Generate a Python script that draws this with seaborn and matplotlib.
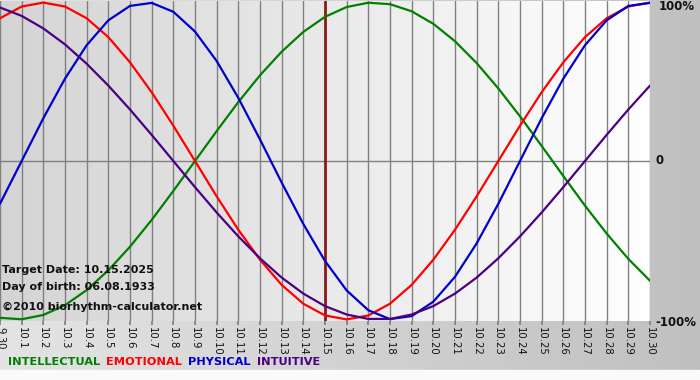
import numpy as np
import pandas as pd
import matplotlib
matplotlib.use("Agg")
import matplotlib.pyplot as plt
import seaborn as sns
from matplotlib.colors import LinearSegmentedColormap

days = ["9.30"] + [f"10.{d}" for d in range(1, 31)]

intellectual = [-0.990, -0.999, -0.972, -0.910, -0.815, -0.690, -0.541, -0.372, -0.189, 0.0,
                0.189, 0.372, 0.541, 0.690, 0.815, 0.910, 0.972, 0.999, 0.990, 0.945,
                0.866, 0.756, 0.618, 0.458, 0.282, 0.095, -0.095, -0.282, -0.458, -0.618, -0.756]
emotional = [0.901, 0.975, 1.0, 0.975, 0.901, 0.782, 0.623, 0.434, 0.223, 0.0,
             -0.223, -0.434, -0.623, -0.782, -0.901, -0.975, -1.0, -0.975, -0.901, -0.782,
             -0.623, -0.434, -0.223, 0.0, 0.223, 0.434, 0.623, 0.782, 0.901, 0.975, 1.0]
physical = [-0.270, 0.0, 0.270, 0.520, 0.731, 0.888, 0.979, 0.998, 0.942, 0.817,
            0.631, 0.398, 0.136, -0.136, -0.398, -0.631, -0.817, -0.942, -0.998, -0.979,
            -0.888, -0.731, -0.520, -0.270, 0.0, 0.270, 0.520, 0.731, 0.888, 0.979, 0.998]
intuitive = [0.969, 0.916, 0.837, 0.736, 0.614, 0.476, 0.325, 0.165, 0.0, -0.165,
             -0.325, -0.476, -0.614, -0.736, -0.837, -0.916, -0.969, -0.997, -0.997, -0.969,
             -0.916, -0.837, -0.736, -0.614, -0.476, -0.325, -0.165, 0.0, 0.165, 0.325, 0.476]

series_names = ["INTELLECTUAL", "EMOTIONAL", "PHYSICAL", "INTUITIVE"]
series_colors = ["#008000", "#ff0000", "#0000cc", "#4b0082"]
target_day = "10.15"
info_lines = ["Target Date: 10.15.2025", "Day of birth: 06.08.1933"]
credit = "\u00a92010 biorhythm-calculator.net"

sns.set_theme(style="white")
plt.rcParams['font.family'] = ['DejaVu Sans']

W, H = 700, 380
fig = plt.figure(figsize=(W / 100, H / 100), dpi=100)

# figure background
bg = fig.add_axes([0, 0, 1, 1], zorder=-10)
bg.set_axis_off()
grad = np.linspace(0, 1, 256).reshape(1, -1)
cm_fig = LinearSegmentedColormap.from_list("f", ["#e4e4e4", "#c0c0c0"])
bg.imshow(grad, cmap=cm_fig, aspect="auto", extent=[0, 1, 0, 1], transform=bg.transAxes)
bg.add_patch(plt.Rectangle((0, 0), 1, 10 / H, color="#fafafa", transform=bg.transAxes))
bg.set_xlim(0, 1); bg.set_ylim(0, 1)

ax = fig.add_axes([0, 1 - 321 / H, 650 / W, 320 / H])
cm_ax = LinearSegmentedColormap.from_list("a", ["#d4d4d4", "#ffffff"])
ax.imshow(grad, cmap=cm_ax, aspect="auto", extent=[0, 1, 0, 1],
          transform=ax.transAxes, zorder=0)

x = np.arange(len(days))
df = pd.DataFrame({
    "day": np.tile(x, 4),
    "value": intellectual + emotional + physical + intuitive,
    "series": np.repeat(series_names, len(days)),
})

for xi in x:
    ax.axvline(xi, color="#808080", lw=1, zorder=1)
ax.axhline(0, color="#808080", lw=1, zorder=1)
ax.axvline(days.index(target_day), color="#8b1a1a", lw=2, zorder=2)

sns.lineplot(data=df, x="day", y="value", hue="series", hue_order=series_names,
             palette=series_colors, lw=1.6, legend=False, ax=ax, zorder=3)

ax.set_xlim(0, len(days) - 1)
ax.set_ylim(-1.01, 1.01)
ax.set_xticks(x)
ax.set_xticklabels(days, rotation=270, fontsize=7.3, color="#111111")
ax.tick_params(axis="x", length=3, color="#808080", pad=1, bottom=True)
ax.set_yticks([])
ax.set_xlabel(""); ax.set_ylabel("")
for s in ax.spines.values():
    s.set_visible(False)

for i, t in enumerate(info_lines):
    fig.text(2 / W, 1 - (270 + 17 * i) / H, t, fontsize=8, fontweight="bold",
             va="center", ha="left", color="#111111")
fig.text(2 / W, 1 - 307 / H, credit, fontsize=8, fontweight="bold",
         va="center", ha="left", color="#111111")

fig.text(659 / W, 1 - 7 / H, "100%", fontsize=8.5, fontweight="bold", va="center", ha="left", color="#111111")
fig.text(655 / W, 1 - 161 / H, "0", fontsize=8.5, fontweight="bold", va="center", ha="left", color="#111111")
fig.text(655 / W, 1 - 322 / H, "-100%", fontsize=8.5, fontweight="bold", va="center", ha="left", color="#111111")

xpos = 8
for name, col in zip(series_names, series_colors):
    t = fig.text(xpos / W, 1 - 362 / H, name, fontsize=8.2, fontweight="bold",
                 color=col, va="center", ha="left")
    fig.canvas.draw()
    bb = t.get_window_extent()
    xpos = bb.x1 + 6

fig.savefig("out.png", dpi=100)
